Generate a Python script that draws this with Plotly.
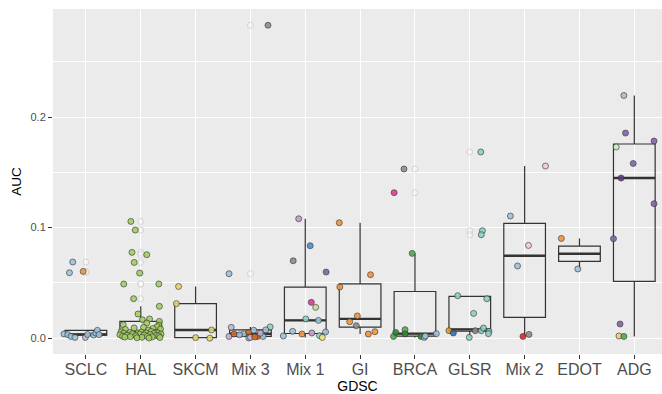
import numpy as np
import plotly.graph_objects as go

categories = ["SCLC", "HAL", "SKCM", "Mix 3", "Mix 1", "GI", "BRCA", "GLSR", "Mix 2", "EDOT", "ADG"]
y_ticks = [0.0, 0.1, 0.2]
y_tick_labels = ["0.0", "0.1", "0.2"]

# AUC per cell line, grouped by GDSC class
auc_sclc = [0.0689, 0.0592, 0.0604, 0.0038, 0.0032, 0.0016, 0.0007, 0.0007, 0.0034, 0.0028, 0.0047, 0.0071, 0.0032]
auc_hal = [0.1056, 0.0978, 0.0776, 0.0755, 0.0685, 0.0589, 0.049, 0.049, 0.0357,
           0.0288, 0.0219, 0.0174, 0.0167, 0.0152, 0.0137, 0.0122, 0.0116,
           0.0105, 0.0098, 0.0093, 0.0088, 0.0083, 0.0079, 0.0074, 0.0048, 0.0050, 0.0061,
           0.0058, 0.0055, 0.0052, 0.0049, 0.0047, 0.0045, 0.0043, 0.0040, 0.0037, 0.0035,
           0.0033, 0.0031, 0.0029, 0.0027, 0.0025, 0.0022, 0.0020, 0.0018, 0.0016, 0.0014,
           0.0012, 0.0010, 0.0008, 0.0006, 0.0004, 0.0002]
auc_skcm = [0.0468, 0.0312, 0.0074, 0.0005, 0.0000]
auc_mix3 = [0.283, 0.0583, 0.0098, 0.0016, 0.0038, 0.0040, 0.0052, 0.0072, 0.0002, 0.0007,
            0.0016, 0.0016, 0.0102, 0.0030, 0.0045, 0.0012, 0.0075]
auc_mix1 = [0.108, 0.0836, 0.070, 0.0598, 0.0324, 0.0279, 0.0174, 0.0161, 0.0062, 0.0038,
            0.0047, 0.0056, 0.0020, 0.0023, 0.0007]
auc_gi = [0.1044, 0.0574, 0.0463, 0.0201, 0.0149, 0.0113, 0.0038, 0.0059]
auc_brca = [0.153, 0.1316, 0.0767, 0.0016, 0.0052, 0.0077, 0.0038, 0.0016, 0.0007, 0.0020, 0.0041]
auc_glsr = [0.1684, 0.0972, 0.0936, 0.0384, 0.0357, 0.0224, 0.0068, 0.0047, 0.0068, 0.0068,
            0.0092, 0.0062, 0.0041, 0.0007]
auc_mix2 = [0.1557, 0.1105, 0.0839, 0.0653, 0.0016, 0.0034]
auc_edot = [0.0902, 0.0626]
auc_adg = [0.2195, 0.1855, 0.1783, 0.1729, 0.158, 0.1448, 0.1216, 0.090, 0.0128, 0.0020, 0.0016]

# tissue subtype of each cell line
sub_sclc = ["sky", "sky", "orange", "sky", "sky", "sky", "sky", "lavender", "sky", "sky", "sky", "sky", "sky"]
sub_hal = ["lime"] * len(auc_hal)
sub_skcm = ["sand"] * len(auc_skcm)
sub_mix3 = ["grey", "sky", "lavender", "lavender", "rust", "sky", "rust", "sky", "sky", "lavender",
            "rust", "sky", "teal", "sky", "lavender", "rust", "sky"]
sub_mix1 = ["lilac", "steel", "grey", "purple", "magenta", "pistachio", "teal", "sky", "sky", "orange",
            "lilac", "sky", "sky", "teal", "lemon"]
sub_gi = ["orange", "orange", "orange", "orange", "orange", "grey", "orange", "orange"]
sub_brca = ["grey", "magenta", "green", "green", "forest", "green", "forest", "forest", "sky", "sky", "sky"]
sub_glsr = ["teal", "teal", "teal", "teal", "teal", "teal", "gold", "blue", "grey", "teal", "teal", "teal", "teal", "teal"]
sub_mix2 = ["blush", "sky", "blush", "sky", "red", "grey"]
sub_edot = ["orange", "sky"]
sub_adg = ["sky", "purple", "purple", "mint", "purple", "plum", "purple", "purple", "purple", "peach", "green"]

# horizontal jitter of each point (in category units)
jit_sclc = [-0.24, -0.30, -0.05, -0.40, -0.33, -0.27, -0.20, -0.01, 0.03, 0.14, 0.18, 0.21, 0.24]
jit_hal = [-0.18, -0.10, -0.16, 0.11, -0.12, -0.02, -0.31, 0.33, -0.13,
           0.34, -0.05, 0.16, 0.03, 0.34, 0.11, -0.32, 0.33,
           0.30, 0.05, -0.12, 0.22, 0.36, -0.28, 0.14, -0.05, 0.27, 0.19,
           -0.36, 0.01, -0.20, 0.31, 0.10, -0.31, 0.24, -0.15, 0.37, -0.02,
           0.17, -0.38, 0.06, -0.25, 0.28, -0.09, 0.33, -0.33, 0.12, -0.19,
           0.21, -0.29, 0.02, 0.35, -0.07, 0.15]
jit_skcm = [-0.31, -0.35, 0.29, 0.0, 0.26]
jit_mix3 = [0.32, -0.39, -0.35, -0.39, -0.30, -0.12, -0.03, 0.06, -0.03, 0.0, 0.13, 0.23, 0.36, -0.20, 0.18, 0.08, 0.28]
jit_mix1 = [-0.12, 0.09, -0.22, 0.38, 0.11, 0.19, 0.01, 0.24, -0.23, -0.06, 0.12, 0.37, -0.40, 0.26, 0.31]
jit_gi = [-0.38, 0.19, -0.37, -0.05, -0.19, -0.07, 0.15, 0.27]
jit_brca = [-0.20, -0.38, -0.05, -0.39, -0.35, -0.18, -0.18, 0.11, 0.17, 0.19, 0.39]
jit_glsr = [0.20, 0.23, 0.21, -0.22, 0.31, 0.07, -0.38, -0.30, 0.10, 0.21, 0.25, 0.35, 0.34, -0.01]
jit_mix2 = [0.38, -0.26, 0.07, -0.13, -0.03, 0.08]
jit_edot = [-0.33, -0.03]
jit_adg = [-0.19, -0.16, 0.36, -0.33, -0.02, -0.24, 0.36, -0.38, -0.26, -0.28, -0.19]

groups = [
    (auc_sclc, sub_sclc, jit_sclc), (auc_hal, sub_hal, jit_hal), (auc_skcm, sub_skcm, jit_skcm),
    (auc_mix3, sub_mix3, jit_mix3), (auc_mix1, sub_mix1, jit_mix1), (auc_gi, sub_gi, jit_gi),
    (auc_brca, sub_brca, jit_brca), (auc_glsr, sub_glsr, jit_glsr), (auc_mix2, sub_mix2, jit_mix2),
    (auc_edot, sub_edot, jit_edot), (auc_adg, sub_adg, jit_adg),
]

palette = {
    "sky": "#9DC3DC", "orange": "#F3933A", "lavender": "#C4B2D6", "lime": "#A3CF5E",
    "sand": "#E2D56C", "grey": "#8C8C8C", "rust": "#D9691F", "teal": "#8CD2C3",
    "lilac": "#C49BCB", "steel": "#4F8FC8", "purple": "#8263AA", "magenta": "#E0399A",
    "pistachio": "#C6E08E", "lemon": "#F1E77A", "green": "#4DAF4A", "forest": "#2E8B33",
    "gold": "#D9A527", "blue": "#2F6EB5", "blush": "#F7C8DA", "red": "#E5232A",
    "mint": "#CDEBC4", "plum": "#5B3A8C", "peach": "#FDC27A",
}

BOX_W = 0.76
LINE = "#333333"

fig = go.Figure()

med_x, med_y = [], []
out_x, out_y = [], []
for i, (vals, subs, jit) in enumerate(groups, start=1):
    v = np.asarray(vals, dtype=float)
    q1, med, q3 = np.quantile(v, [0.25, 0.5, 0.75])
    iqr = q3 - q1
    inside = v[(v >= q1 - 1.5 * iqr) & (v <= q3 + 1.5 * iqr)]
    outside = v[(v < q1 - 1.5 * iqr) | (v > q3 + 1.5 * iqr)]
    fig.add_trace(go.Box(
        x=[i], q1=[q1], median=[med], q3=[q3],
        lowerfence=[inside.min()], upperfence=[inside.max()],
        width=BOX_W, whiskerwidth=0, boxpoints=False,
        fillcolor="rgba(0,0,0,0)", line=dict(color=LINE, width=1.2),
        showlegend=False, hoverinfo="skip",
    ))
    med_x += [i - BOX_W / 2, i + BOX_W / 2, None]
    med_y += [med, med, None]
    out_x += [i] * len(outside)
    out_y += list(outside)

# thicker median bar
fig.add_trace(go.Scatter(x=med_x, y=med_y, mode="lines", line=dict(color=LINE, width=2.4),
                         showlegend=False, hoverinfo="skip"))

# faint outlier markers at the box centre
fig.add_trace(go.Scatter(x=out_x, y=out_y, mode="markers",
                         marker=dict(size=6, color="rgba(255,255,255,0.25)",
                                     line=dict(color="#D4D4D4", width=1)),
                         showlegend=False, hoverinfo="skip"))

# jittered cell lines
px, py, pc = [], [], []
for i, (vals, subs, jit) in enumerate(groups, start=1):
    px += [i + j for j in jit]
    py += list(vals)
    pc += [palette[s] for s in subs]
fig.add_trace(go.Scatter(x=px, y=py, mode="markers",
                         marker=dict(size=6, color=pc, opacity=0.9,
                                     line=dict(color="#333333", width=0.7)),
                         showlegend=False))

font_family = "Liberation Sans, Arial, sans-serif"
fig.update_layout(
    width=662, height=394,
    margin=dict(l=53, r=0, t=9, b=40),
    paper_bgcolor="white", plot_bgcolor="#EBEBEB",
    font=dict(family=font_family),
    xaxis=dict(
        range=[0.4, 11.505], tickmode="array", tickvals=list(range(1, len(categories) + 1)),
        ticktext=categories, showgrid=True, gridcolor="white", gridwidth=1.1, zeroline=False,
        ticks="outside", ticklen=4, tickwidth=1, tickcolor="#333333",
        tickfont=dict(size=16, color="#4D4D4D"), ticklabelstandoff=-3,
        title=dict(text="GDSC", font=dict(size=14, color="black"), standoff=2),
    ),
    yaxis=dict(
        range=[-0.0143, 0.2977], tickmode="array", tickvals=y_ticks, ticktext=y_tick_labels,
        showgrid=True, gridcolor="white", gridwidth=1.1, zeroline=False,
        ticks="outside", ticklen=4, tickwidth=1, tickcolor="#333333",
        tickfont=dict(size=11, color="#4D4D4D"),
        minor=dict(tickvals=[0.05, 0.15, 0.25], showgrid=True, gridcolor="white", gridwidth=0.5, ticks=""),
        title=dict(text="AUC", font=dict(size=13.5, color="black"), standoff=5),
    ),
)

fig.write_html("out.html")
